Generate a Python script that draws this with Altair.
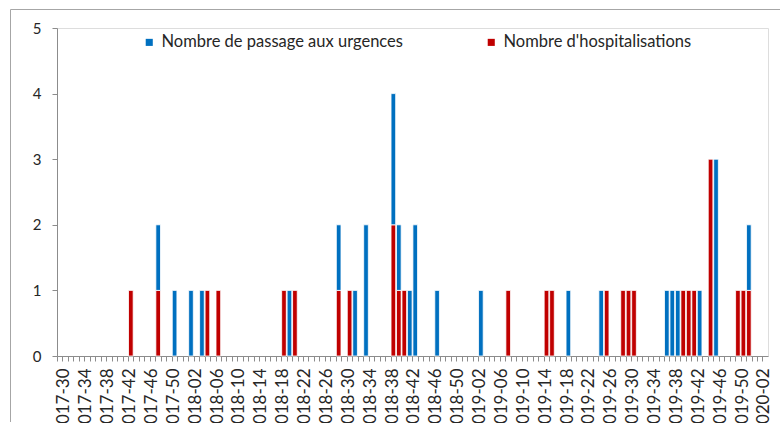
import altair as alt
import pandas as pd

# Weekly categories (ISO year-week) shown on the x axis
weeks = []
for yr, w0, w1 in [(2017, 30, 52), (2018, 1, 52), (2019, 1, 52), (2020, 1, 3)]:
    for w in range(w0, w1 + 1):
        weeks.append(f"{yr}-{w:02d}")
label_weeks = weeks[::4]

SER_P = "Nombre de passage aux urgences"
SER_H = "Nombre d'hospitalisations"

hosp_weeks = ["2017-43", "2017-48", "2018-05", "2018-07", "2018-19", "2018-21",
              "2018-29", "2018-31", "2018-39", "2018-40", "2018-41", "2019-08",
              "2019-15", "2019-16", "2019-26", "2019-29", "2019-30", "2019-31",
              "2019-40", "2019-41", "2019-42", "2019-45", "2019-50", "2019-51",
              "2019-52"]
hosp_values = [1, 1, 1, 1, 1, 1,
               1, 1, 2, 1, 1, 1,
               1, 1, 1, 1, 1, 1,
               1, 1, 1, 3, 1, 1,
               1]

pass_weeks = ["2017-48", "2017-51", "2018-02", "2018-04", "2018-20", "2018-29",
              "2018-32", "2018-34", "2018-39", "2018-40", "2018-42", "2018-43",
              "2018-47", "2019-03", "2019-19", "2019-25", "2019-37", "2019-38",
              "2019-39", "2019-43", "2019-46", "2019-52"]
pass_values = [1, 1, 1, 1, 1, 1,
               1, 2, 2, 1, 1, 2,
               1, 1, 1, 1, 1, 1,
               1, 1, 3, 1]

rows = [{"semaine": w, "serie": SER_H, "n": v, "ordre": 0} for w, v in zip(hosp_weeks, hosp_values)]
rows += [{"semaine": w, "serie": SER_P, "n": v, "ordre": 1} for w, v in zip(pass_weeks, pass_values)]
df = pd.DataFrame(rows)

FONT = "Lato"
TXT = "#262626"
AXC = "#8c8c8c"

label_list = "[" + ",".join(f"'{w}'" for w in label_weeks) + "]"

bars = alt.Chart(df).mark_bar(stroke="white", strokeWidth=0.8).encode(
    x=alt.X("semaine:N",
            scale=alt.Scale(domain=weeks, paddingInner=0.15, paddingOuter=0.075),
            sort=weeks,
            axis=alt.Axis(title=None, bandPosition=0, tickSize=5, tickColor=AXC,
                          domainColor=AXC, labelAngle=-90, labelOverlap=False,
                          labelBound=False, labelFlush=False,
                          labelExpr=f"indexof({label_list}, datum.value) >= 0 ? datum.label : ''",
                          labelOffset=4.7, labelPadding=7, labelFont=FONT,
                          labelFontSize=17, labelColor=TXT, grid=False)),
    y=alt.Y("n:Q", stack="zero",
            scale=alt.Scale(domain=[0, 5], nice=False),
            axis=alt.Axis(title=None, values=[0, 1, 2, 3, 4, 5], format="d",
                          tickSize=5, tickColor=AXC, domainColor=AXC, grid=False,
                          labelPadding=11, labelFont=FONT, labelFontSize=15,
                          labelColor=TXT)),
    color=alt.Color("serie:N",
                    scale=alt.Scale(domain=[SER_P, SER_H], range=["#0070C0", "#C00000"]),
                    legend=alt.Legend(title=None, orient="none", legendX=84, legendY=6,
                                      direction="horizontal", symbolType="square",
                                      symbolSize=50, symbolStrokeWidth=0,
                                      labelFont=FONT, labelFontSize=16.5, labelColor=TXT,
                                      labelLimit=0, columnPadding=80, labelOffset=4)),
    order=alt.Order("ordre:Q", sort="ascending"),
)

# Chart-area frame (top and left edges visible in the reference), kept inside the canvas
one = pd.DataFrame({"a": [0]})
frame_top = alt.Chart(one).mark_rule(color="#a6a6a6", strokeWidth=1, clip=False).encode(
    x=alt.value(-46.5), x2=alt.value(723), y=alt.value(-18.5)
)
frame_left = alt.Chart(one).mark_rule(color="#a6a6a6", strokeWidth=1, clip=False).encode(
    x=alt.value(-46.5), y=alt.value(-18.5), y2=alt.value(394)
)

chart = alt.layer(frame_top, frame_left, bars).properties(
    width=711, height=328,
    autosize=alt.AutoSizeParams(type="none"),
    padding={"left": 57, "top": 28, "right": 13, "bottom": 67},
).configure_view(stroke=None).configure(background="white")

chart.save("out.html", embed_options={"renderer": "svg", "actions": False})
